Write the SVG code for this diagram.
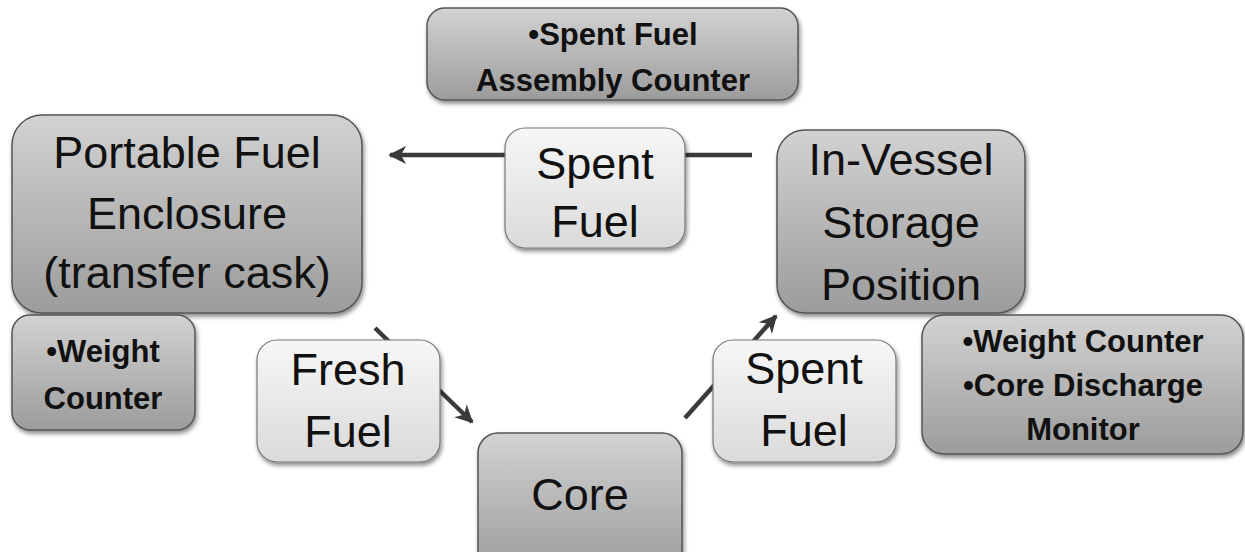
<svg xmlns="http://www.w3.org/2000/svg" width="1245" height="552" viewBox="0 0 1245 552">
  <defs>
    <linearGradient id="gDark" x1="0" y1="0" x2="0" y2="1">
      <stop offset="0" stop-color="#d2d2d2"/>
      <stop offset="1" stop-color="#9c9c9c"/>
    </linearGradient>
    <linearGradient id="gLight" x1="0" y1="0" x2="0" y2="1">
      <stop offset="0" stop-color="#f7f7f7"/>
      <stop offset="1" stop-color="#dadada"/>
    </linearGradient>
    <filter id="shadow" x="-10%" y="-10%" width="120%" height="130%">
      <feDropShadow dx="1.5" dy="3" stdDeviation="2" flood-color="#000" flood-opacity="0.45"/>
    </filter>
    <marker id="arrow" viewBox="0 0 10 10" refX="9" refY="5" markerWidth="4" markerHeight="4" orient="auto" markerUnits="strokeWidth">
      <path d="M0,0 L10,5 L0,10 L3,5 z" fill="#3a3a3a"/>
    </marker>
    <style>
      .dark { fill: url(#gDark); stroke: #555; stroke-width: 1.5; filter: url(#shadow); }
      .light { fill: url(#gLight); stroke: #777; stroke-width: 1.2; filter: url(#shadow); }
      .big { font-family: "Liberation Sans", Arial, sans-serif; font-size: 45px; fill: #111; text-anchor: middle; }
      .small { font-family: "Liberation Sans", Arial, sans-serif; font-size: 31px; font-weight: bold; fill: #111; text-anchor: middle; }
      .conn { stroke: #3a3a3a; stroke-width: 4.5; fill: none; }
    </style>
  </defs>

  <rect width="1245" height="552" fill="#ffffff"/>

  <g id="connectors">
    <line class="conn" x1="752" y1="155" x2="390" y2="155" marker-end="url(#arrow)"/>
    <line class="conn" x1="375" y1="328" x2="472" y2="422" marker-end="url(#arrow)"/>
    <line class="conn" x1="685" y1="418" x2="776" y2="316" marker-end="url(#arrow)"/>
  </g>

  <g id="assembly-counter">
    <rect class="dark" x="427" y="8" width="371" height="92" rx="18"/>
    <text class="small" x="613" y="45">•Spent Fuel</text>
    <text class="small" x="613" y="91">Assembly Counter</text>
  </g>

  <g id="portable-fuel-enclosure">
    <rect class="dark" x="12" y="115" width="350" height="198" rx="30"/>
    <text class="big" x="187" y="168">Portable Fuel</text>
    <text class="big" x="187" y="229">Enclosure</text>
    <text class="big" x="187" y="288">(transfer cask)</text>
  </g>

  <g id="spent-fuel-top">
    <rect class="light" x="505" y="128" width="180" height="120" rx="20"/>
    <text class="big" x="595" y="179">Spent</text>
    <text class="big" x="595" y="237">Fuel</text>
  </g>

  <g id="in-vessel-storage">
    <rect class="dark" x="777" y="130" width="248" height="183" rx="28"/>
    <text class="big" x="901" y="175">In-Vessel</text>
    <text class="big" x="901" y="238">Storage</text>
    <text class="big" x="901" y="300">Position</text>
  </g>

  <g id="weight-counter-left">
    <rect class="dark" x="12" y="315" width="183" height="115" rx="18"/>
    <text class="small" x="103" y="362">•Weight</text>
    <text class="small" x="103" y="409">Counter</text>
  </g>

  <g id="fresh-fuel">
    <rect class="light" x="257" y="340" width="183" height="122" rx="20"/>
    <text class="big" x="348" y="385">Fresh</text>
    <text class="big" x="348" y="447">Fuel</text>
  </g>

  <g id="core">
    <rect class="dark" x="478" y="433" width="204" height="140" rx="20"/>
    <text class="big" x="580" y="510">Core</text>
  </g>

  <g id="spent-fuel-right">
    <rect class="light" x="713" y="340" width="183" height="122" rx="20"/>
    <text class="big" x="804" y="384">Spent</text>
    <text class="big" x="804" y="446">Fuel</text>
  </g>

  <g id="weight-discharge">
    <rect class="dark" x="922" y="315" width="321" height="139" rx="22"/>
    <text class="small" x="1083" y="352">•Weight Counter</text>
    <text class="small" x="1083" y="396">•Core Discharge</text>
    <text class="small" x="1083" y="440">Monitor</text>
  </g>
</svg>
